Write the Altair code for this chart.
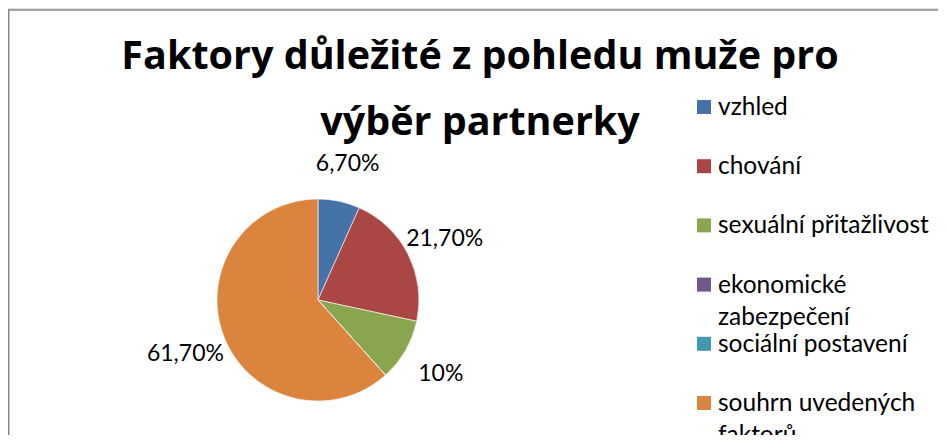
import altair as alt
import pandas as pd

categories = ["vzhled", "chování", "sexuální přitažlivost", "ekonomické zabezpečení",
              "sociální postavení", "souhrn uvedených faktorů"]
values = [6.7, 21.7, 10.0, 0.0, 0.0, 61.7]
pie_labels = ["6,70%", "21,70%", "10%", "", "", "61,70%"]
legend_labels = ["vzhled", "chování", "sexuální přitažlivost", "ekonomické\nzabezpečení",
                 "sociální postavení", "souhrn uvedených\nfaktorů"]
colors = ["#4572A7", "#AA4643", "#89A54E", "#71588F", "#4198AF", "#DB843D"]
title_lines = ["Faktory důležité z pohledu muže pro", "výběr partnerky"]

df = pd.DataFrame({
    "category": categories,
    "value": values,
    "label": pie_labels,
    "legend": legend_labels,
    "idx": list(range(len(categories))),
})

FONT = "Lato"
CX, CY, R = 310, 292, 101

color = alt.Color("category:N", scale=alt.Scale(domain=categories, range=colors), legend=None)

base = alt.Chart(df)

border = base.transform_filter("datum.idx == 0").mark_rect(
    fill="white", fillOpacity=0, stroke="#878787", strokeWidth=1.5
).encode(x=alt.value(0.75), x2=alt.value(980), y=alt.value(2), y2=alt.value(480))

pie = base.mark_arc(stroke="#ffffff", strokeWidth=0.6, outerRadius=R).encode(
    theta=alt.Theta("value:Q", stack=True),
    color=color,
    order=alt.Order("idx:Q"),
    x=alt.value(CX), y=alt.value(CY),
)

labels = base.mark_text(radius=142, dy=3, font=FONT, fontSize=23, color="#000000").encode(
    theta=alt.Theta("value:Q", stack=True),
    order=alt.Order("idx:Q"),
    text="label:N",
    x=alt.value(CX), y=alt.value(CY),
)

leg_y = alt.Y("category:N", scale=alt.Scale(type="point", domain=categories, range=[99, 395], padding=0), axis=None)

swatch = base.mark_square(size=196, opacity=1).encode(
    x=alt.value(696), y=leg_y, color=color,
)

legend_text = base.mark_text(align="left", baseline="alphabetic", dy=8, lineBreak="\n",
                             lineHeight=32, font=FONT, fontSize=24.5, color="#000000").encode(
    x=alt.value(710), y=leg_y, text="legend:N",
)

chart = alt.layer(border, pie, labels, swatch, legend_text).properties(
    width=930, height=427,
    title=alt.Title(title_lines, font="Open Sans", fontSize=39.5, fontWeight="bold", color="#000000",
                    anchor="middle", baseline="alphabetic", lineHeight=66, offset=0, dy=166, dx=7),
    padding=0,
    autosize=alt.AutoSizeParams(type="none"),
).configure_view(stroke=None).configure(background="white")

chart.save("out.html", embed_options={"renderer": "svg", "actions": False})
